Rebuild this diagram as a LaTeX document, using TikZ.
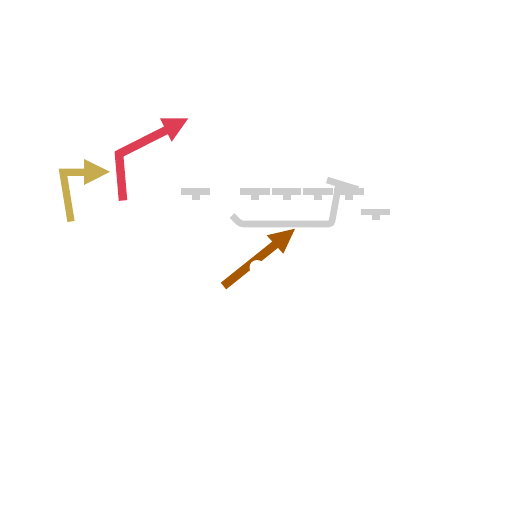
\documentclass[tikz,border=0pt]{standalone}
\definecolor{cgold}{RGB}{198,172,78}
\definecolor{cred}{RGB}{222,62,84}
\definecolor{cbrown}{RGB}{168,88,0}
\definecolor{cgray}{RGB}{204,204,204}
\tikzset{
  tee/.pic={\fill[cgray] (-14.75,0) rectangle (14.75,6.6); \fill[cgray] (-4,6.3) rectangle (4,11.5);},
  shaft/.style={line width=#1, line cap=butt, line join=miter},
  headfill/.style={fill=#1, draw=none}
}
\begin{document}
\begin{tikzpicture}[x=1pt,y=-1pt]
\useasboundingbox (0,0) rectangle (512,512);
% gold arrow
\coordinate (g0) at (71,221.5);
\coordinate (g1) at (63,172.3);
\coordinate (g2) at (85,172.3);
\draw[cgold, shaft=7.3] (g0) -- (g1) -- (g2);
\fill[headfill=cgold] (84,159) -- (110,171.8) -- (84,185) -- cycle;
% red arrow
\coordinate (r0) at (123,200.5);
\coordinate (r1) at (119,154);
\coordinate (r2) at (166.5,130);
\draw[cred, shaft=8.5] (r0) -- (r1) -- (r2);
\fill[headfill=cred] (160,118.3) -- (188.3,118.3) -- (171.7,141.7) -- cycle;
% brown arrow
\coordinate (b0) at (223.5,286);
\coordinate (b1) at (276,244);
\draw[cbrown, shaft=8.5] (b0) -- (b1);
\fill[headfill=cbrown] (266.7,235.3) -- (295,228.7) -- (283.3,253.7) -- cycle;
\fill[white] (257,267.5) circle (7.5);
% gray tees
\pic at (195.5,188.2) {tee};
\pic at (255,188.2) {tee};
\pic at (286.5,188.2) {tee};
\pic at (318,188.2) {tee};
\pic at (349.2,188.2) {tee};
\pic at (375.5,208.5) {tee};
% gray connector
\coordinate (c0) at (232,215.5);
\coordinate (c1) at (240.5,224);
\coordinate (c2) at (331.5,224);
\coordinate (c3) at (338.8,184);
\draw[cgray, shaft=6.6, rounded corners=3pt] (c0) -- (c1) -- (c2) -- (c3);
\coordinate (s0) at (327,180);
\coordinate (s1) at (358,189.5);
\draw[cgray, shaft=6.6] (s0) -- (s1);
\end{tikzpicture}
\end{document}
